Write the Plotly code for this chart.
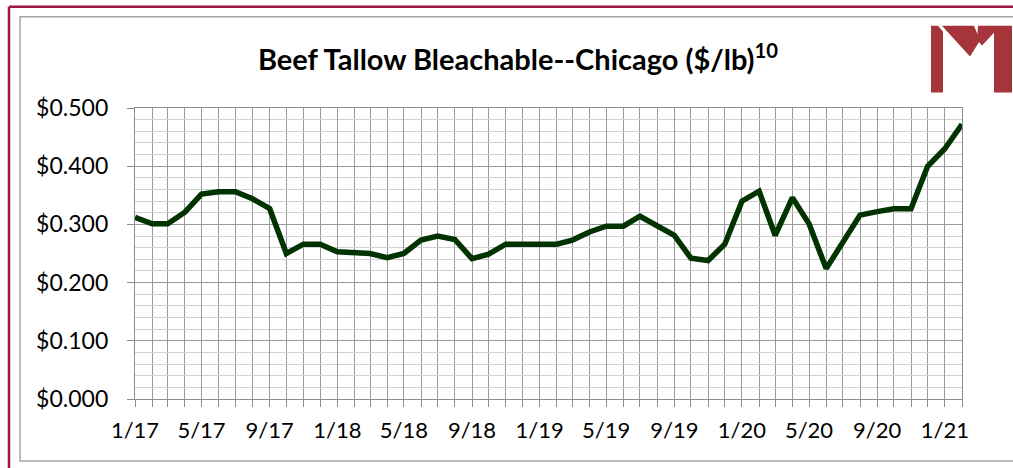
import pandas as pd
import plotly.graph_objects as go

# monthly price, 1/17 .. 2/21
months = pd.date_range("2017-01-01", "2021-02-01", freq="MS")
price = [0.312, 0.301, 0.301, 0.321, 0.352, 0.356, 0.356, 0.344, 0.327, 0.250,
         0.266, 0.266, 0.253, 0.252, 0.250, 0.243, 0.250, 0.273, 0.280, 0.274,
         0.241, 0.249, 0.266, 0.266, 0.266, 0.266, 0.273, 0.287, 0.297, 0.297,
         0.314, 0.298, 0.281, 0.242, 0.238, 0.266, 0.340, 0.357, 0.281, 0.346,
         0.301, 0.224, 0.268, 0.316, 0.322, 0.327, 0.327, 0.400, 0.430, 0.472]
y_ticks = [0.0, 0.1, 0.2, 0.3, 0.4, 0.5]

W, H = 1013, 468
L, R, T, B = 135, 51, 107.5, 69

def px(x, y):
    # pixel position -> paper coords
    return (x - L) / (W - L - R), 1 - (y - T) / (H - T - B)

def path(pts):
    s = ""
    for i, (x, y) in enumerate(pts):
        a, b = px(x, y)
        s += ("M" if i == 0 else "L") + f"{a:.5f},{b:.5f} "
    return s + "Z"

fig = go.Figure()
fig.add_trace(go.Scatter(x=months, y=price, mode="lines",
                         line=dict(color="#003300", width=5.5)))

shapes = []
# outer frame
x0, y0 = px(9, 6)
x1, y1 = px(1030, 480)
shapes.append(dict(type="line", xref="paper", yref="paper", x0=x0, y0=y0, x1=x1, y1=y0,
                   line=dict(color="#A0153E", width=2.5)))
shapes.append(dict(type="line", xref="paper", yref="paper", x0=x0, y0=y0, x1=x0, y1=y1,
                   line=dict(color="#A0153E", width=2.5)))
gx0, gy0 = px(20, 16)
gx1, gy1 = px(1030, 461)
shapes.append(dict(type="rect", xref="paper", yref="paper", x0=gx0, y0=gy1, x1=gx1, y1=gy0,
                   line=dict(color="#A6A6A6", width=1.5)))
# logo
red = "#A6353B"
for pts in [[(931, 25), (938, 25), (943, 31), (943, 92), (931, 92)],
            [(942, 25), (974, 25), (980, 40), (970, 56)],
            [(978, 25), (1012, 25), (1012, 92), (994, 92), (994, 32), (982, 45), (977, 39)]]:
    shapes.append(dict(type="path", xref="paper", yref="paper", path=path(pts),
                       fillcolor=red, line=dict(width=0)))

fig.update_layout(
    width=W, height=H,
    margin=dict(l=L, r=R, t=T, b=B),
    paper_bgcolor="white", plot_bgcolor="white",
    showlegend=False,
    font=dict(family="Lato", color="#000000"),
    title=dict(text="<b>Beef Tallow Bleachable--Chicago ($/lb)<sup>10</sup></b>",
               x=518 / W, y=1 - 60 / H, xref="container", yref="container",
               xanchor="center", yanchor="middle",
               font=dict(size=29, family="Lato", color="#000000")),
    shapes=shapes,
)
fig.update_xaxes(
    range=[months[0], months[-1]],
    tickvals=months[::4], tickformat="%-m/%y",
    tickfont=dict(size=22),
    ticks="outside", ticklen=7, tickcolor="#8c8c8c",
    ticklabelstandoff=4,
    showgrid=True, gridcolor="#9A9A9A", gridwidth=1.3,
    minor=dict(tickvals=months, ticks="outside", ticklen=7, tickcolor="#8c8c8c",
               showgrid=True, gridcolor="#9A9A9A", gridwidth=1.3),
    showline=True, linecolor="#8c8c8c", linewidth=1.3, mirror=True,
    zeroline=False,
)
fig.update_yaxes(
    range=[0, 0.5], tickvals=y_ticks, tickformat="$.3f",
    tickfont=dict(size=23),
    ticks="outside", ticklen=7, tickcolor="#8c8c8c",
    ticklabelstandoff=14,
    showgrid=True, gridcolor="#9A9A9A", gridwidth=1.3,
    minor=dict(dtick=0.02, showgrid=True, gridcolor="#D0D0D0", gridwidth=1.3),
    showline=True, linecolor="#8c8c8c", linewidth=1.3, mirror=True,
    zeroline=False,
)
# the page body has a default 8px margin; drop it so the figure sits at 0,0
fig.write_html("out.html", config={"displayModeBar": False},
               post_script="document.body.style.margin='0px';")
